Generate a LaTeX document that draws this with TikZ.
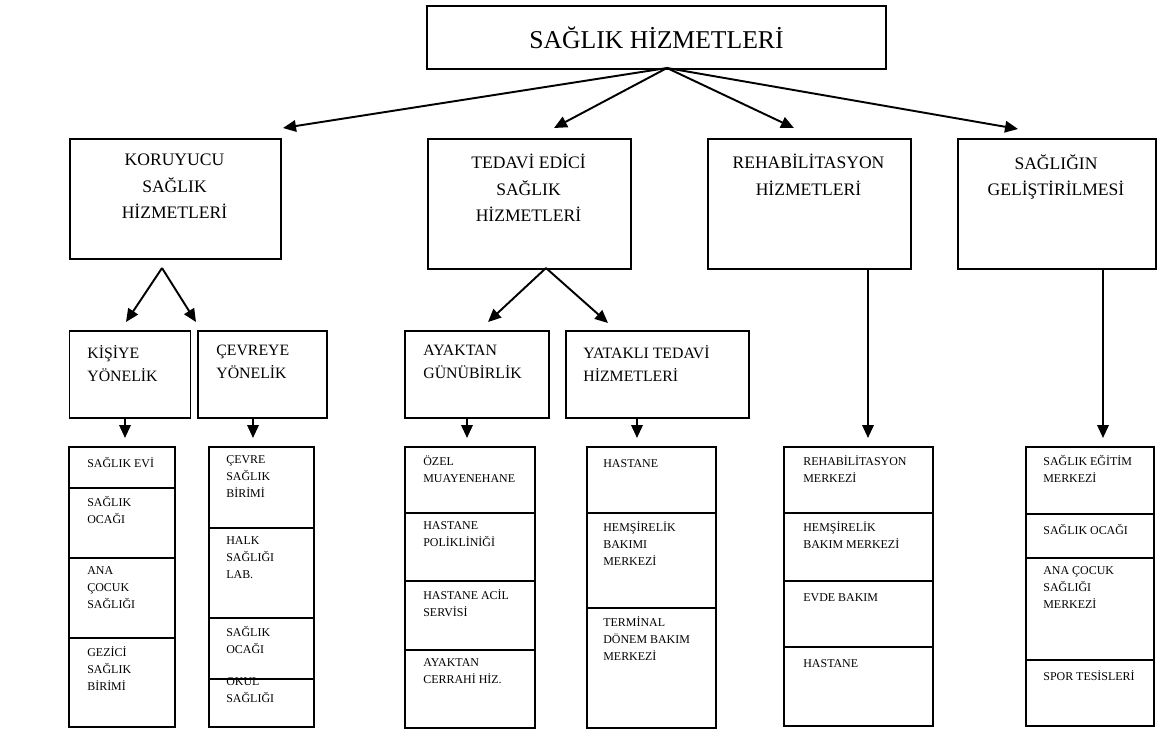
\documentclass[tikz,border=0pt]{standalone}
\usepackage{fontspec}
\setmainfont{Liberation Serif}
\usetikzlibrary{arrows.meta}
\tikzset{box/.style = {draw, line width = 1.1pt, inner sep = 0, anchor = north west},
  cell/.style 2 args = {box, minimum width = {(#1)*0.02cm}, minimum height = {(#2)*0.02cm}},
  arr/.style = {line width = 1.1pt, -{Triangle[length = 0.26cm, width = 0.23cm]}},
  head/.style = {font = \fontsize{10}{15}\selectfont, align = center, anchor = north, inner sep = 0,
    execute at begin node = \strut},
  sub/.style = {font = \fontsize{9}{13}\selectfont, align = left, anchor = north west, inner sep = 0,
    execute at begin node = \strut},
  item/.style = {font = \fontsize{6.8}{9.7}\selectfont, align = left, anchor = north west, inner sep = 0,
    execute at begin node = \strut}}

\begin{document}
\begin{tikzpicture}[x = 0.02cm, y = -0.02cm]
    \useasboundingbox (0, 0) rectangle (1157, 731);

    \node [cell = {459}{63}, font = \fontsize{14.6}{17}\selectfont] (top) at (426, 5) {SAĞLIK HİZMETLERİ};

    % second row
    \node [cell = {211}{120}] (kor) at (69, 138) {};
    \node [cell = {203}{130}] (ted) at (427, 138) {};
    \node [cell = {203}{130}] (reh) at (707, 138) {};
    \node [cell = {198}{130}] (gel) at (957, 138) {};
    \node [head] (kor-txt) at (174.5, 154) {KORUYUCU\\SAĞLIK\\HİZMETLERİ};
    \node [head] (ted-txt) at (528.5, 154) {TEDAVİ EDİCİ\\SAĞLIK\\HİZMETLERİ};
    \node [head] (reh-txt) at (808.5, 154) {REHABİLİTASYON\\HİZMETLERİ};
    \node [head] (gel-txt) at (1056, 154) {SAĞLIĞIN\\GELİŞTİRİLMESİ};

    \coordinate (fork) at (667, 68);
    \coordinate (kor-in) at (283, 128);
    \coordinate (ted-in) at (554, 128);
    \coordinate (reh-in) at (794, 128);
    \coordinate (gel-in) at (1018, 129);
    \foreach \n in {kor, ted, reh, gel}
      \draw [arr] (fork) -- (\n-in);

    % third row
    \node [cell = {121}{87}] (kis) at (68.5, 330) {};
    \node [cell = {129}{87}] (cev) at (197, 330) {};
    \node [cell = {144}{87}] (aya) at (404, 330) {};
    \node [cell = {183}{87}] (yat) at (565, 330) {};
    \node [sub] (kis-txt) at (87, 345) {KİŞİYE\\YÖNELİK};
    \node [sub] (cev-txt) at (216, 345) {ÇEVREYE\\YÖNELİK};
    \node [sub] (aya-txt) at (423, 345) {AYAKTAN\\GÜNÜBİRLİK};
    \node [sub] (yat-txt) at (583, 345) {YATAKLI TEDAVİ\\HİZMETLERİ};

    \coordinate (kor-fork) at (162, 268);
    \coordinate (ted-fork) at (546, 268);
    \coordinate (kis-in) at (126, 322);
    \coordinate (cev-in) at (196, 322);
    \coordinate (aya-in) at (488, 322);
    \coordinate (yat-in) at (608, 323);
    \draw [arr] (kor-fork) -- (kis-in);
    \draw [arr] (kor-fork) -- (cev-in);
    \draw [arr] (ted-fork) -- (aya-in);
    \draw [arr] (ted-fork) -- (yat-in);

    % lists
    \foreach \t/\b/\txt [count = \i] in {446/487/{SAĞLIK EVİ}, 487/557/{SAĞLIK\\OCAĞI},
        557/637/{ANA\\ÇOCUK\\SAĞLIĞI}, 637/726/{GEZİCİ\\SAĞLIK\\BİRİMİ}} {
      \node [cell = {106}{\b-\t}] (a\i) at (68, \t) {};
      \node [item] (a\i-txt) at (87, \t+9) {\txt};
    }
    \foreach \t/\b/\txt [count = \i] in {446/527/{ÇEVRE\\SAĞLIK\\BİRİMİ}, 527/617/{HALK\\SAĞLIĞI\\LAB.},
        617/678/{SAĞLIK\\OCAĞI}} {
      \node [cell = {105}{\b-\t}] (b\i) at (208, \t) {};
      \node [item] (b\i-txt) at (226, \t+9) {\txt};
    }
    \node [cell = {105}{48}] (b4) at (208, 678) {};
    \node [item] (b4-txt) at (226, 677) {OKUL\\SAĞLIĞI};
    \foreach \t/\b/\txt [count = \i] in {446/512/{ÖZEL\\MUAYENEHANE}, 512/580/{HASTANE\\POLİKLİNİĞİ},
        580/649/{HASTANE ACİL\\SERVİSİ}, 649/727/{AYAKTAN\\CERRAHİ HİZ.}} {
      \node [cell = {130}{\b-\t}] (c\i) at (404, \t) {};
      \node [item] (c\i-txt) at (423, \t+9) {\txt};
    }
    \foreach \t/\b/\txt [count = \i] in {446/512/{HASTANE}, 512/607/{HEMŞİRELİK\\BAKIMI\\MERKEZİ},
        607/727/{TERMİNAL\\DÖNEM BAKIM\\MERKEZİ}} {
      \node [cell = {129}{\b-\t}] (d\i) at (586, \t) {};
      \node [item] (d\i-txt) at (603, \t+9) {\txt};
    }
    \foreach \t/\b/\txt [count = \i] in {446/512/{REHABİLİTASYON\\MERKEZİ}, 512/580/{HEMŞİRELİK\\BAKIM MERKEZİ},
        580/646/{EVDE BAKIM}, 646/725/{HASTANE}} {
      \node [cell = {149}{\b-\t}] (e\i) at (783, \t) {};
      \node [item] (e\i-txt) at (803, \t+9) {\txt};
    }
    \foreach \t/\b/\txt [count = \i] in {446/513/{SAĞLIK EĞİTİM\\MERKEZİ}, 513/557/{SAĞLIK OCAĞI},
        557/659/{ANA ÇOCUK\\SAĞLIĞI\\MERKEZİ}, 659/725/{SPOR TESİSLERİ}} {
      \node [cell = {128}{\b-\t}] (f\i) at (1025, \t) {};
      \node [item] (f\i-txt) at (1043, \t+9) {\txt};
    }

    \coordinate (a-in) at (125, 438);
    \coordinate (b-in) at (253, 438);
    \coordinate (c-in) at (467, 438);
    \coordinate (d-in) at (637, 438);
    \coordinate (e-in) at (868, 438);
    \coordinate (f-in) at (1103, 438);
    \draw [arr] (kis.south -| a-in) -- (a-in);
    \draw [arr] (cev.south -| b-in) -- (b-in);
    \draw [arr] (aya.south -| c-in) -- (c-in);
    \draw [arr] (yat.south -| d-in) -- (d-in);
    \draw [arr] (reh.south -| e-in) -- (e-in);
    \draw [arr] (gel.south -| f-in) -- (f-in);
  \end{tikzpicture}
\end{document}
